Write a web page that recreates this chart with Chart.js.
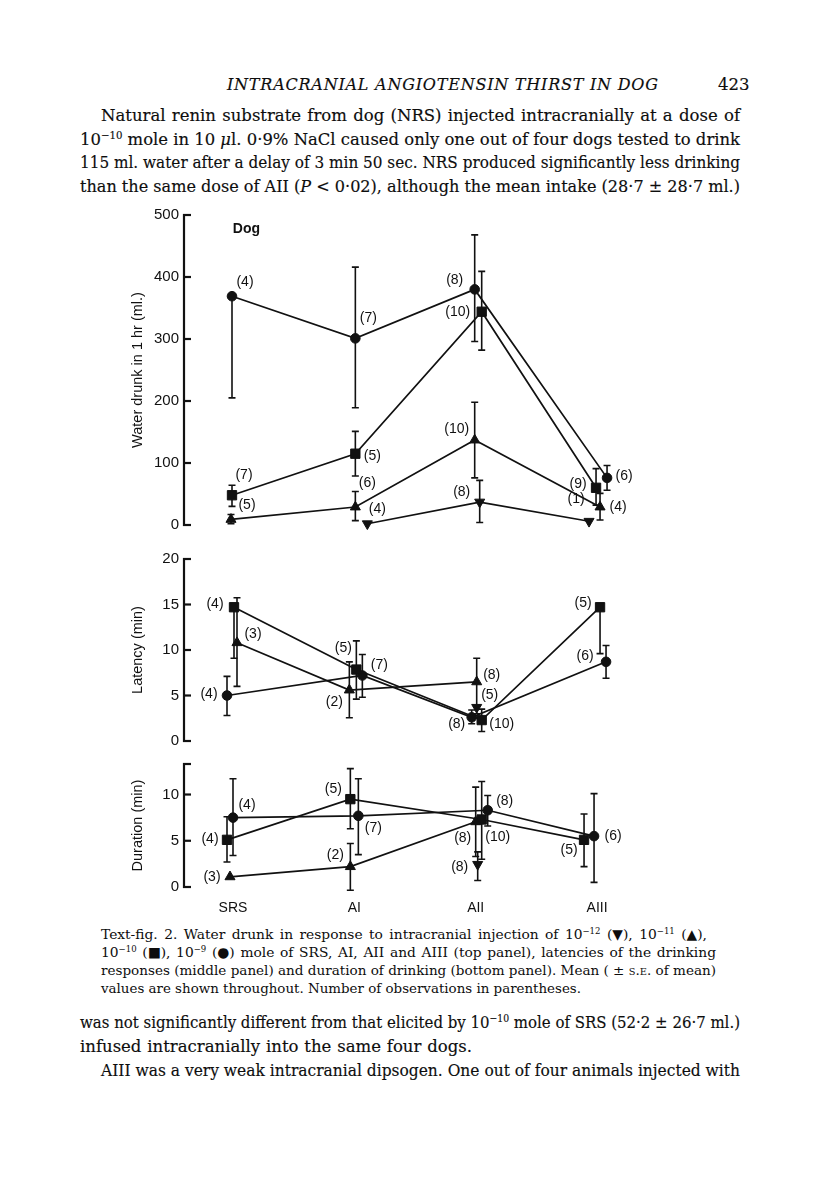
<!DOCTYPE html>
<html>
<head>
<meta charset="utf-8">
<script src="https://cdn.jsdelivr.net/npm/chart.js@4.4.1/dist/chart.umd.min.js"></script>
<style>
html,body{margin:0;padding:0;background:#fff;}
body{width:816px;height:1183px;position:relative;overflow:hidden;font-family:"DejaVu Serif","Liberation Serif",serif;color:#0d0d0d;}
.ln{position:absolute;display:inline-block;white-space:nowrap;transform-origin:0 50%;}
.ln sup{font-size:0.62em;vertical-align:0.55em;line-height:0;}
.body{font-size:16.5px;line-height:19px;-webkit-text-stroke:0.15px #0d0d0d;}
.cap{font-size:13.8px;line-height:16px;}
.sc{font-variant:small-caps;}
canvas{position:absolute;left:0;}
</style>
</head>
<body>

<div class="ln body" data-yc="86" data-w="431" data-fit="letter" style="left:227px;font-style:italic;font-size:16px">INTRACRANIAL ANGIOTENSIN THIRST IN DOG</div>
<div class="ln body" data-yc="86" style="left:718px">423</div>

<div class="ln body" data-yc="117" data-w="639" style="left:101px">Natural renin substrate from dog (NRS) injected intracranially at a dose of</div>
<div class="ln body" data-yc="141" data-w="660" style="left:80px">10<sup>−10</sup> mole in 10 <i>μ</i>l. 0·9% NaCl caused only one out of four dogs tested to drink</div>
<div class="ln body" data-yc="164" data-w="660" style="left:80px">115 ml. water after a delay of 3 min 50 sec. NRS produced significantly less drinking</div>
<div class="ln body" data-yc="188" data-w="660" style="left:80px">than the same dose of AII (<i>P</i> &lt; 0·02), although the mean intake (28·7 ± 28·7 ml.)</div>

<div class="ln cap" data-yc="935" data-w="606" style="left:101px">Text-fig. 2. Water drunk in response to intracranial injection of 10<sup>−12</sup> (▼), 10<sup>−11</sup> (▲),</div>
<div class="ln cap" data-yc="953" data-w="615" style="left:101px">10<sup>−10</sup> (■), 10<sup>−9</sup> (●) mole of SRS, AI, AII and AIII (top panel), latencies of the drinking</div>
<div class="ln cap" data-yc="971" data-w="615" style="left:101px">responses (middle panel) and duration of drinking (bottom panel). Mean ( ± <span class="sc">s.e.</span> of mean)</div>
<div class="ln cap" data-yc="989" data-w="480" style="left:101px">values are shown throughout. Number of observations in parentheses.</div>

<div class="ln body" data-yc="1024" data-w="660" style="left:80px">was not significantly different from that elicited by 10<sup>−10</sup> mole of SRS (52·2 ± 26·7 ml.)</div>
<div class="ln body" data-yc="1048" data-w="392" style="left:80px">infused intracranially into the same four dogs.</div>
<div class="ln body" data-yc="1072" data-w="639" style="left:101px">AIII was a very weak intracranial dipsogen. One out of four animals injected with</div>

<script>
// ---------------- DATA ----------------
const categories = ['SRS', 'AI', 'AII', 'AIII'];
const doses = ['10^-12 (inverted triangle)', '10^-11 (triangle)', '10^-10 (square)', '10^-9 (circle)'];

// Top panel: water drunk in 1 hr (ml.)
const waterTitle = 'Water drunk in 1 hr (ml.)';
const waterTicks = [0, 100, 200, 300, 400, 500];
const waterInv    = [null, 2, 37, 6];
const waterInvHi  = [null, null, 72, null];
const waterInvLo  = [null, null, 4, null];
const waterInvN   = [null, 4, 8, 1];
const waterTri    = [9, 29, 137, 29];
const waterTriHi  = [17, 54, 198, 51];
const waterTriLo  = [2, 7, 76, 8];
const waterTriN   = [5, 6, 10, 4];
const waterSq     = [48, 115, 344, 60];
const waterSqHi   = [64, 151, 409, 91];
const waterSqLo   = [30, 79, 282, 32];
const waterSqN    = [7, 5, 10, 9];
const waterCirc   = [369, 301, 380, 76];
const waterCircHi = [null, 416, 468, 96];
const waterCircLo = [205, 189, 296, 56];
const waterCircN  = [4, 7, 8, 6];

// Middle panel: latency (min)
const latTitle = 'Latency (min)';
const latTicks = [0, 5, 10, 15, 20];
const latInv    = [null, null, 3.7, null];
const latInvHi  = [null, null, null, null];
const latInvLo  = [null, null, 3.0, null];
const latInvN   = [null, null, 5, null];
const latTri    = [10.8, 5.6, 6.5, null];
const latTriHi  = [15.75, 8.7, 9.1, null];
const latTriLo  = [6.0, 2.55, 3.9, null];
const latTriN   = [3, 2, 8, null];
const latSq     = [14.7, 7.85, 2.3, 14.7];
const latSqHi   = [null, 11.0, 3.5, null];
const latSqLo   = [9.1, 4.6, 1.05, 9.6];
const latSqN    = [4, 5, 10, 5];
const latCirc   = [5.0, 7.2, 2.6, 8.7];
const latCircHi = [7.1, 9.5, 3.4, 10.5];
const latCircLo = [2.8, 4.8, 1.9, 6.9];
const latCircN  = [4, 7, 8, 6];

// Bottom panel: duration (min)
const durTitle = 'Duration (min)';
const durTicks = [0, 5, 10];
const durAxisTop = 13.3;
const durInv    = [null, null, 2.45, null];
const durInvHi  = [null, null, 3.8, null];
const durInvLo  = [null, null, 0.7, null];
const durInvN   = [null, null, 8, null];
const durTri    = [1.1, 2.2, 7.05, null];
const durTriHi  = [null, 4.7, 10.8, null];
const durTriLo  = [null, -0.35, 3.3, null];
const durTriN   = [3, 2, 8, null];
const durSq     = [5.1, 9.5, 7.3, 5.1];
const durSqHi   = [7.6, 12.8, 11.4, 7.9];
const durSqLo   = [2.7, 6.3, 3.0, 2.2];
const durSqN    = [4, 5, 10, 5];
const durCirc   = [7.5, 7.7, 8.3, 5.5];
const durCircHi = [11.7, 11.7, 9.9, 10.1];
const durCircLo = [3.4, 3.5, 6.6, 0.5];
const durCircN  = [4, 7, 8, 6];

// ---------------- LAYOUT / STYLE ----------------
const INK = '#111111';
const SANS = '"Liberation Sans", Arial, Helvetica, sans-serif';
const UNIT = 121.33;               // px per category step
const X_MIN = -0.4038, X_MAX = 3.354;
const MARK = {
  inv:  {pointStyle: 'triangle', pointRotation: 180, pointRadius: 5.8},
  tri:  {pointStyle: 'triangle', pointRotation: 0,   pointRadius: 5.8},
  sq:   {pointStyle: 'rect',     pointRotation: 0,   pointRadius: 6.6},
  circ: {pointStyle: 'circle',   pointRotation: 0,   pointRadius: 4.8}
};

const panels = [
  { id: 'water', top: 200, height: 340, padTop: 15, padBottom: 15, yMax: 500, ticks: waterTicks,
    title: waterTitle, showX: false, note: {text: 'Dog', x: 0.04, y: 477},
    series: [
      {m: 'inv',  y: waterInv,  hi: waterInvHi,  lo: waterInvLo,  n: waterInvN,
       dodge: [0, 13, 4, -8],  lab: [null, [10, -15], [-18, -10], [-13, -22]]},
      {m: 'tri',  y: waterTri,  hi: waterTriHi,  lo: waterTriLo,  n: waterTriN,
       dodge: [-2, 1, -1, 3],  lab: [[16, -14], [12, -24], [-18, -11], [18, 0]]},
      {m: 'sq',   y: waterSq,   hi: waterSqHi,   lo: waterSqLo,   n: waterSqN,
       dodge: [-1, 1, 6, -1],  lab: [[12, -20], [17, 2], [-24, 0], [-18, -4]]},
      {m: 'circ', y: waterCirc, hi: waterCircHi, lo: waterCircLo, n: waterCircN,
       dodge: [-1, 1, -1, 10], lab: [[13, -14], [13, -20], [-20, -9], [17, -2]]}
    ]},
  { id: 'lat', top: 545, height: 210, padTop: 12, padBottom: 12, yMax: 20, ticks: latTicks,
    title: latTitle, showX: false,
    series: [
      {m: 'inv',  y: latInv,  hi: latInvHi,  lo: latInvLo,  n: latInvN,
       dodge: [0, 0, 1, 0],   lab: [null, null, [13, -12], null]},
      {m: 'tri',  y: latTri,  hi: latTriHi,  lo: latTriLo,  n: latTriN,
       dodge: [4, -5, 1, 0],  lab: [[16, -9], [-15, 12], [15, -7], null]},
      {m: 'sq',   y: latSq,   hi: latSqHi,   lo: latSqLo,   n: latSqN,
       dodge: [1, 2, 6, 3],   lab: [[-19, -3], [-13, -21], [20, 4], [-17, -4]]},
      {m: 'circ', y: latCirc, hi: latCircHi, lo: latCircLo, n: latCircN,
       dodge: [-6, 8, -4, 9], lab: [[-18, -1], [17, -10], [-15, 7], [-21, -6]]}
    ]},
  { id: 'dur', top: 750, height: 180, padTop: 12, padBottom: 13, yMax: durAxisTop, ticks: durTicks,
    title: durTitle, showX: true,
    series: [
      {m: 'inv',  y: durInv,  hi: durInvHi,  lo: durInvLo,  n: durInvN,
       dodge: [0, 0, 2, 0],     lab: [null, null, [-18, 3], null]},
      {m: 'tri',  y: durTri,  hi: durTriHi,  lo: durTriLo,  n: durTriN,
       dodge: [-3, -4, 0, 0],   lab: [[-18, 0], [-15, -12], [-13, 16], null]},
      {m: 'sq',   y: durSq,   hi: durSqHi,   lo: durSqLo,   n: durSqN,
       dodge: [-6, -4, 6, -13], lab: [[-17, -1], [-17, -10], [16, 18], [-15, 10]]},
      {m: 'circ', y: durCirc, hi: durCircHi, lo: durCircLo, n: durCircN,
       dodge: [0, 4, 12, -3],   lab: [[14, -12], [15, 12], [17, -9], [19, 0]]}
    ]}
];

// ---------------- TEXT FITTING ----------------
function fitLines() {
  document.querySelectorAll('.ln').forEach(el => {
    el.style.wordSpacing = '0px'; el.style.letterSpacing = '0px'; el.style.transform = '';
    const cs = getComputedStyle(el);
    const fs = parseFloat(cs.fontSize);
    el.style.top = (parseFloat(el.dataset.yc) - 0.69 * fs - (parseFloat(cs.lineHeight) - 1.2 * fs) / 2) + 'px';
    if (!el.dataset.w) return;
    const target = parseFloat(el.dataset.w);
    const w = el.getBoundingClientRect().width;
    if (w > target) { el.style.transform = 'scaleX(' + (target / w) + ')'; return; }
    if (el.dataset.fit === 'letter') {
      const n = el.textContent.length - 1;
      el.style.letterSpacing = ((target - w) / n) + 'px';
    } else {
      const n = (el.textContent.match(/ /g) || []).length;
      if (n) el.style.wordSpacing = ((target - w) / n) + 'px';
    }
  });
}
fitLines();
if (document.fonts && document.fonts.ready) document.fonts.ready.then(fitLines);

// ---------------- CHARTS ----------------
function decoPlugin(panel) {
  return {
    id: 'deco_' + panel.id,
    beforeDatasetsDraw(chart) {
      const {ctx, chartArea, scales: {x, y}} = chart;
      ctx.save();
      ctx.strokeStyle = INK;
      ctx.lineWidth = 2.2;
      const ax = chartArea.left;
      ctx.beginPath();
      ctx.moveTo(ax, y.getPixelForValue(y.min) + 1);
      ctx.lineTo(ax, y.getPixelForValue(y.max) - 1);
      ctx.stroke();
      y.ticks.forEach(t => {
        const py = y.getPixelForValue(t.value);
        ctx.beginPath(); ctx.moveTo(ax - 1, py); ctx.lineTo(ax + 7, py); ctx.stroke();
      });
      ctx.lineWidth = 1.6;
      panel.series.forEach(s => {
        s.y.forEach((v, i) => {
          if (v == null) return;
          const px = x.getPixelForValue(i + s.dodge[i] / UNIT);
          const py = y.getPixelForValue(v);
          [s.hi[i], s.lo[i]].forEach(e => {
            if (e == null) return;
            const pe = y.getPixelForValue(e);
            ctx.beginPath();
            ctx.moveTo(px, py); ctx.lineTo(px, pe);
            ctx.moveTo(px - 3.5, pe); ctx.lineTo(px + 3.5, pe);
            ctx.stroke();
          });
        });
      });
      ctx.restore();
    },
    afterDatasetsDraw(chart) {
      const {ctx, scales: {x, y}} = chart;
      ctx.save();
      ctx.fillStyle = INK;
      ctx.font = '14px ' + SANS;
      ctx.textAlign = 'center';
      ctx.textBaseline = 'middle';
      panel.series.forEach(s => {
        s.y.forEach((v, i) => {
          if (v == null || s.n[i] == null || !s.lab[i]) return;
          const px = x.getPixelForValue(i + s.dodge[i] / UNIT);
          const py = y.getPixelForValue(v);
          ctx.fillText('(' + s.n[i] + ')', px + s.lab[i][0], py + s.lab[i][1]);
        });
      });
      if (panel.note) {
        ctx.textAlign = 'left';
        ctx.font = 'bold 14px ' + SANS;
        ctx.fillText(panel.note.text, x.getPixelForValue(panel.note.x) - 5, y.getPixelForValue(panel.note.y));
      }
      ctx.restore();
    }
  };
}

panels.forEach(panel => {
  const cv = document.createElement('canvas');
  cv.width = 816; cv.height = panel.height;
  cv.style.top = panel.top + 'px';
  cv.style.width = '816px'; cv.style.height = panel.height + 'px';
  document.body.appendChild(cv);

  const datasets = panel.series.map(s => ({
    data: s.y.map((v, i) => v == null ? null : {x: i + s.dodge[i] / UNIT, y: v}).filter(p => p),
    borderColor: INK, backgroundColor: INK,
    borderWidth: 1.7, tension: 0, fill: false, clip: false,
    pointBackgroundColor: INK, pointBorderColor: INK, pointBorderWidth: 1,
    pointStyle: MARK[s.m].pointStyle, pointRotation: MARK[s.m].pointRotation,
    pointRadius: MARK[s.m].pointRadius, pointHoverRadius: MARK[s.m].pointRadius
  }));

  new Chart(cv, {
    type: 'line',
    data: {datasets},
    options: {
      responsive: false, animation: false, devicePixelRatio: 1,
      events: [],
      layout: {padding: {left: 120, right: 176, top: panel.padTop, bottom: panel.padBottom}},
      plugins: {legend: {display: false}, tooltip: {enabled: false}},
      scales: {
        x: {
          type: 'linear', min: X_MIN, max: X_MAX, display: panel.showX,
          grid: {display: false, drawTicks: false}, border: {display: false},
          afterBuildTicks: sc => { sc.ticks = categories.map((c, i) => ({value: i})); },
          afterFit: sc => { if (panel.showX) sc.height = 30; },
          ticks: {
            callback: v => categories[v] ?? '', autoSkip: false, maxRotation: 0,
            font: {family: SANS, size: 14}, color: INK, padding: 13
          }
        },
        y: {
          type: 'linear', min: 0, max: panel.yMax,
          grid: {display: false, drawTicks: false}, border: {display: false},
          afterBuildTicks: sc => {
            const t = panel.ticks.map(v => ({value: v}));
            if (panel.ticks[panel.ticks.length - 1] !== panel.yMax) t.push({value: panel.yMax});
            sc.ticks = t;
          },
          afterFit: sc => { sc.width = 64; },
          ticks: {
            callback: v => panel.ticks.includes(v) ? String(v) : '',
            font: {family: SANS, size: 15}, color: INK, padding: 5
          },
          title: {display: true, text: panel.title, font: {family: SANS, size: 14.5}, color: INK,
                  padding: {top: 9, bottom: 0}}
        }
      }
    },
    plugins: [decoPlugin(panel)]
  });
});
</script>
</body>
</html>
